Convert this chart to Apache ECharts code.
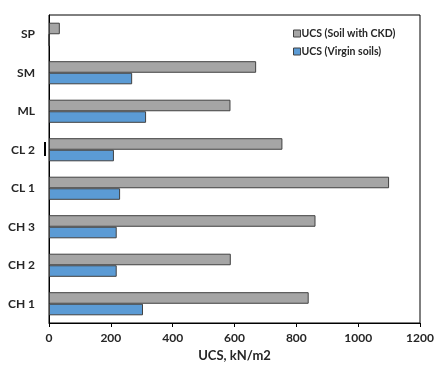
<!DOCTYPE html>
<html><head><meta charset="utf-8">
<script src="https://cdn.jsdelivr.net/npm/echarts@6/dist/echarts.min.js"></script>
<style>html,body{margin:0;padding:0;background:#fff}#c{width:437px;height:367px}</style>
</head><body><div id="c"></div>
<script>
const categories = ['CH 1', 'CH 2', 'CH 3', 'CL 1', 'CL 2', 'ML', 'SM', 'SP'];
const ckdValues = [840, 588, 862, 1100, 755, 587, 670, 35];
const virginValues = [304, 219, 219, 230, 210, 314, 269, 0];
const xTicks = [0, 200, 400, 600, 800, 1000, 1200];
const ckdName = 'UCS (Soil with CKD)';
const virginName = 'UCS (Virgin soils)';

const font = 'Lato, "Open Sans", sans-serif';
const chart = echarts.init(document.getElementById('c'), null, {renderer: 'canvas'});
chart.setOption({
  animation: false,
  grid: {left: 49, right: 17, top: 15, bottom: 44, show: true, borderColor: '#000', borderWidth: 1},
  legend: {
    data: [ckdName, virginName], orient: 'vertical', left: 288, top: 23, itemGap: 7,
    itemWidth: 7, itemHeight: 7, icon: 'rect',
    itemStyle: {borderColor: '#404040', borderWidth: 1},
    textStyle: {fontSize: 10.5, fontWeight: 'bold', color: '#262626', fontFamily: font, padding: [0,0,0,-4]}
  },
  xAxis: {
    type: 'value', min: xTicks[0], max: xTicks[xTicks.length - 1], interval: 200,
    name: 'UCS, kN/m2', nameLocation: 'middle', nameGap: 26,
    nameTextStyle: {fontSize: 13, fontWeight: 'bold', color: '#262626', fontFamily: font},
    axisLine: {show: true, lineStyle: {color: '#000'}},
    axisTick: {show: true, length: 4, lineStyle: {color: '#000'}},
    axisLabel: {fontSize: 12, fontWeight: 'bold', color: '#262626', fontFamily: font, margin: 9,
      formatter: v => String(v)},
    splitLine: {show: false}
  },
  yAxis: {
    type: 'category', data: categories,
    axisLine: {show: true, lineStyle: {color: '#000'}},
    axisTick: {show: false},
    axisLabel: {fontSize: 12, fontWeight: 'bold', color: '#262626', fontFamily: font, margin: 14}
  },
  series: [
    {name: ckdName, type: 'bar', data: ckdValues, barGap: '0%', barCategoryGap: '40%',
      itemStyle: {color: '#a5a5a5', borderColor: '#404040', borderWidth: 1}},
    {name: virginName, type: 'bar', data: virginValues,
      itemStyle: {color: '#5b9bd5', borderColor: '#404040', borderWidth: 1}}
  ],
  graphic: [{type: 'rect', shape: {x: 44, y: 142, width: 2, height: 14}, style: {fill: '#000'}}]
});
</script></body></html>
